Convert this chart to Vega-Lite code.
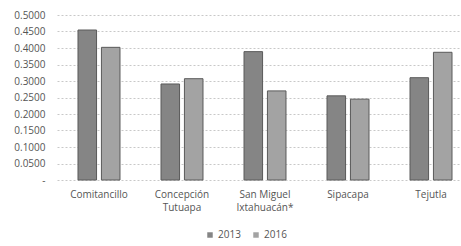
{
  "$schema": "https://vega.github.io/schema/vega-lite/v6.json",
  "autosize": "none",
  "width": 404,
  "height": 165,
  "padding": {"left": 57, "top": 15, "right": 0, "bottom": 66},
  "background": "white",
  "data": {
    "values": [
      {"municipio": "Comitancillo", "year": "2013", "value": 0.4545},
      {"municipio": "Comitancillo", "year": "2016", "value": 0.402},
      {"municipio": "Concepción Tutuapa", "year": "2013", "value": 0.291},
      {"municipio": "Concepción Tutuapa", "year": "2016", "value": 0.307},
      {"municipio": "San Miguel Ixtahuacán*", "year": "2013", "value": 0.389},
      {"municipio": "San Miguel Ixtahuacán*", "year": "2016", "value": 0.270},
      {"municipio": "Sipacapa", "year": "2013", "value": 0.255},
      {"municipio": "Sipacapa", "year": "2016", "value": 0.245},
      {"municipio": "Tejutla", "year": "2013", "value": 0.310},
      {"municipio": "Tejutla", "year": "2016", "value": 0.387}
    ]
  },
  "config": {
    "view": {"stroke": null},
    "font": "Open Sans"
  },
  "mark": {"type": "bar", "stroke": "#5a5a5a", "strokeWidth": 1},
  "encoding": {
    "x": {
      "field": "municipio",
      "type": "nominal",
      "sort": null,
      "scale": {"range": [0, 416], "paddingInner": 0.494, "paddingOuter": 0.253},
      "axis": {
        "title": null,
        "labelAngle": 0,
        "ticks": false,
        "domain": false,
        "labelFontSize": 10,
        "labelColor": "#555555",
        "labelPadding": 9,
        "labelLineHeight": 13,
        "labelExpr": "datum.label == 'Concepción Tutuapa' ? ['Concepción', 'Tutuapa'] : datum.label == 'San Miguel Ixtahuacán*' ? ['San Miguel', 'Ixtahuacán*'] : datum.label"
      }
    },
    "xOffset": {
      "field": "year",
      "type": "nominal",
      "scale": {"paddingInner": 0.208, "paddingOuter": 0}
    },
    "y": {
      "field": "value",
      "type": "quantitative",
      "scale": {"domain": [0, 0.5]},
      "axis": {
        "title": null,
        "values": [0, 0.05, 0.1, 0.15, 0.2, 0.25, 0.3, 0.35, 0.4, 0.45, 0.5],
        "labelExpr": "datum.value == 0 ? '-' : format(datum.value, '.4f')",
        "ticks": false,
        "domain": false,
        "labelFontSize": 10,
        "labelColor": "#555555",
        "labelPadding": 12,
        "gridColor": "#c8c8c8",
        "gridDash": [2, 2],
        "gridWidth": 1
      }
    },
    "color": {
      "field": "year",
      "type": "nominal",
      "scale": {"domain": ["2013", "2016"], "range": ["#858585", "#a3a3a3"]},
      "legend": {
        "title": null,
        "orient": "none",
        "direction": "horizontal",
        "legendX": 148,
        "legendY": 215,
        "symbolType": "square",
        "symbolSize": 30,
        "symbolStrokeWidth": 0,
        "labelFontSize": 10,
        "labelColor": "#555555",
        "columnPadding": 10,
        "labelOffset": 3
      }
    }
  }
}
